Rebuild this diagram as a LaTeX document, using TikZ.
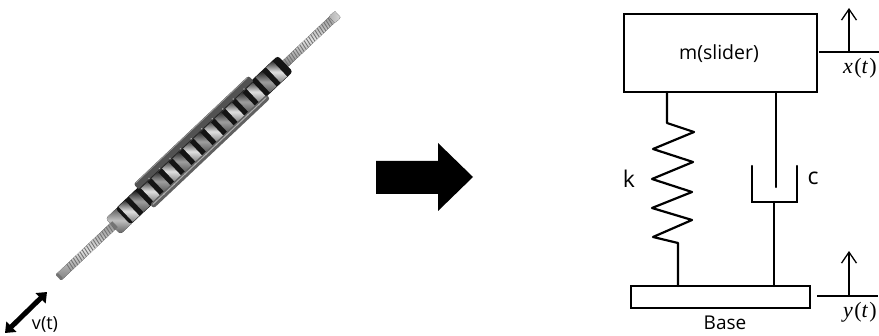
\documentclass[tikz,border=0pt]{standalone}
\usepackage{fontspec}
\setmainfont{Open Sans}
\newfontfamily\symfont[LetterSpace=6]{Liberation Serif}
\usetikzlibrary{arrows.meta}
\tikzset{
  heavy/.style={line width=2.2pt,black,line cap=round,line join=miter},
  thin ref/.style={line width=1.2pt,black},
  up arrow/.style={line width=1.2pt,black,-{Straight Barb[length=11pt,width=15pt,line width=1.3pt]}},
  box/.style={draw=black,line width=2.2pt,fill=white,inner sep=0pt,outer sep=0pt},
  lab/.style={inner sep=0pt,font=\fontsize{19.5}{22}\selectfont},
  small lab/.style={inner sep=0pt,font=\fontsize{19}{22}\selectfont},
  sym lab/.style={inner sep=0pt,font=\symfont\fontsize{22}{24}\selectfont},
  light seg/.style={top color=black!80,bottom color=black!50,middle color=black!12},
  grey seg/.style={top color=black!88,bottom color=black!65,middle color=black!38},
}
\begin{document}
\begin{tikzpicture}[x=1pt,y=-1pt]
\useasboundingbox (0,0) rectangle (879,336);
\fill[white] (0,0) rectangle (879,336);

% slider picture, drawn along its own axis
\begin{scope}[shift={(59,277)},x=1pt,y=1pt,rotate=43.3]
  % threaded rods
  \fill[top color=black!45,bottom color=black!50,middle color=black!12] (0,-4) rectangle (78,4);
  \fill[top color=black!45,bottom color=black!50,middle color=black!12] (309,-4) rectangle (383,4);
  \foreach \t in {13,16,...,76}{\draw[black!55,line width=.9pt] (\t,-4) -- (\t+1.5,4);}
  \foreach \t in {312,315,...,372}{\draw[black!55,line width=.9pt] (\t,-4) -- (\t+1.5,4);}
  \fill[black!55,rounded corners=1pt] (-1,-4) rectangle (2,4);
  \fill[left color=black!30,right color=black!15,rounded corners=1.5pt] (375,-4.5) rectangle (383,4.5);
  % collar
  \fill[rounded corners=3pt,top color=black!70,bottom color=black!65,middle color=black!25] (74,-11) rectangle (92,10.5);
  \fill[black!55] (74,-4) rectangle (77,4);
  % black core with lighter rings
  \fill[rounded corners=3pt,black!92] (88,-11) rectangle (311,11);
  \foreach \c/\s in {299/light seg,284.5/grey seg,270/light seg,255.5/grey seg,241/light seg,226.5/grey seg,212/light seg,197.5/grey seg,183/light seg,168.5/grey seg,154/light seg,139.5/grey seg,125/light seg,110.5/grey seg,96/light seg}{
    \fill[\s] (\c-4.5,-10.5) rectangle (\c+4.5,10.5);
  }
  % carriage plates
  \fill[rounded corners=2.5pt,black!68] (118,8.5) rectangle (276,16.5);
  \draw[black!40,line width=.7pt] (120,15.8) -- (274,15.8);
  \draw[black!85,line width=.8pt] (119,9) -- (275,9);
  \fill[rounded corners=2.5pt,black!62] (116,-15) rectangle (276,-9.5);
  \draw[black!32,line width=1pt] (118,-11.5) -- (274,-11.5);
  \foreach \t in {133,147.5,...,270}{
    \fill[black!35] (\t,10) circle (.9pt);
    \fill[black!30] (\t,-11.5) circle (.9pt);
  }
\end{scope}

% velocity arrow
\coordinate (va) at (47,292);
\coordinate (vb) at (5,333);
\draw[line width=5pt,black,{Triangle[length=9pt,width=14pt]}-{Triangle[length=9pt,width=14pt]}] (vb) -- (va);
\node[inner sep=0pt,font=\fontsize{18}{20}\selectfont,anchor=center] (vlab) at (45,325) {v(t)};

% big block arrow
\fill[black] (376,161) -- (438,161) -- (438,143) -- (473,177) -- (438,211) -- (438,194) -- (376,194) -- cycle;

% mass and base
\node[box,minimum width=193pt,minimum height=78pt] (mass) at (720.5,53) {};
\node[lab,anchor=center] (masslab) at (719,54) {m(slider)};
\node[box,minimum width=179pt,minimum height=22pt] (base) at (720.5,297) {};
\node[small lab,anchor=center] (baselab) at (725,323) {Base};

% spring
\coordinate (sa) at (667,92);
\coordinate (sb) at (678,286);
\draw[heavy,line join=round] (sa) -- (667,123) -- (694,132) -- (653,149) -- (693,162) -- (652,179)
   -- (692,192) -- (652,208) -- (692,220) -- (653,237) -- (678,243) -- (sb);
\node[lab,anchor=center,font=\fontsize{23}{26}\selectfont] (klab) at (629,179) {k};

% damper
\coordinate (da) at (776,92);
\coordinate (db) at (776,187);
\coordinate (dc) at (774,202);
\coordinate (dd) at (774,286);
\draw[heavy] (da) -- (db);
\draw[heavy] (752,166) -- (752,202) -- (797,202) -- (797,166);
\draw[heavy] (dc) -- (dd);
\node[lab,anchor=center,font=\fontsize{23}{26}\selectfont] (clab) at (813,178) {c};

% displacement references
\coordinate (xa) at (819,52);
\coordinate (xb) at (879,52);
\coordinate (xc) at (849,52);
\coordinate (xd) at (849,8);
\draw[thin ref] (xa) -- (xb);
\draw[up arrow] (xc) -- (xd);
\node[sym lab,anchor=center] (xlab) at (860,68) {\textit{x}(\textit{t})};
\coordinate (ya) at (817,296);
\coordinate (yb) at (878,296);
\coordinate (yc) at (849,296);
\coordinate (yd) at (849,251);
\draw[thin ref] (ya) -- (yb);
\draw[up arrow] (yc) -- (yd);
\node[sym lab,anchor=center] (ylab) at (860,312) {\textit{y}(\textit{t})};
\end{tikzpicture}
\end{document}
